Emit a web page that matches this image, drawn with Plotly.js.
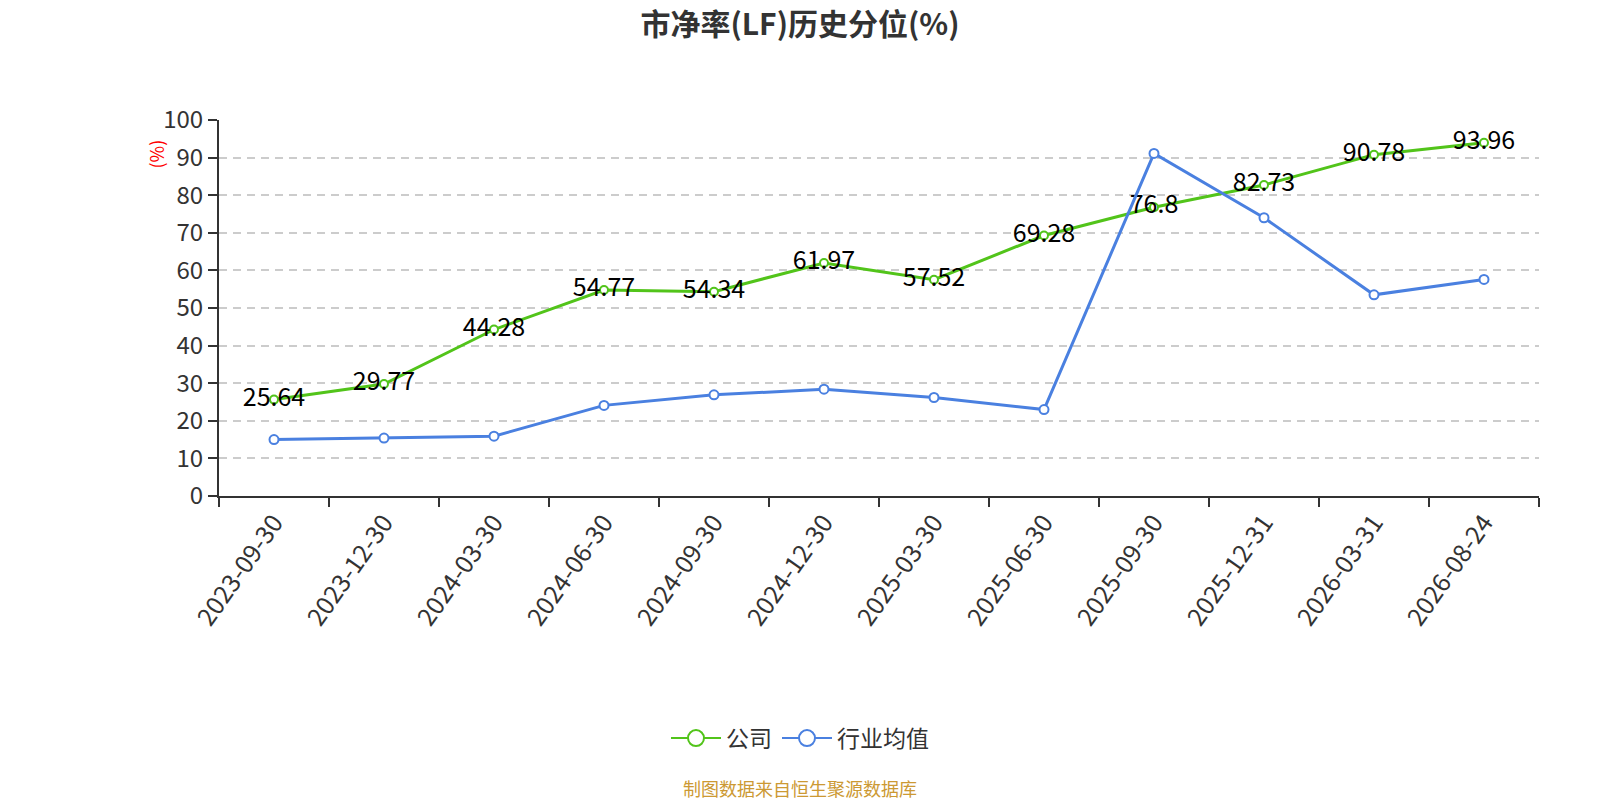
<!DOCTYPE html>
<html>
<head>
<meta charset="utf-8">
<script src="https://cdn.plot.ly/plotly-3.0.1.min.js"></script>
<style>
  body { margin: 0; background: #fff; }
  #chart { width: 1600px; height: 800px; }
</style>
</head>
<body>
<div id="chart"></div>
<script>
// dates on the x axis
var dates = ['2023-09-30', '2023-12-30', '2024-03-30', '2024-06-30', '2024-09-30', '2024-12-30',
             '2025-03-30', '2025-06-30', '2025-09-30', '2025-12-31', '2026-03-31', '2026-08-24'];
// 公司
var company = [25.64, 29.77, 44.28, 54.77, 54.34, 61.97, 57.52, 69.28, 76.8, 82.73, 90.78, 93.96];
// 行业均值
var industry = [15.0, 15.4, 15.9, 24.1, 26.9, 28.4, 26.2, 23.0, 91.1, 74.0, 53.5, 57.6];

var green = '#52c41a';
var blue = '#4a80e0';
var font = '"Noto Sans CJK SC", "Noto Sans", sans-serif';

var trace1 = {
  x: dates,
  y: company,
  name: '公司',
  type: 'scatter',
  mode: 'lines+markers+text',
  text: company.map(String),
  textposition: 'middle center',
  textfont: { family: font, size: 25, color: '#000' },
  line: { color: green, width: 3 },
  marker: { symbol: 'circle', size: 8, color: '#fff', line: { color: green, width: 2 } },
  showlegend: false,
  hoverinfo: 'none'
};

var trace2 = {
  x: dates,
  y: industry,
  name: '行业均值',
  type: 'scatter',
  mode: 'lines+markers',
  line: { color: blue, width: 3 },
  marker: { symbol: 'circle', size: 9, color: '#fff', line: { color: blue, width: 2 } },
  showlegend: false,
  hoverinfo: 'none'
};

// legend entries only, with the bigger legend circles
function legendItem(name, color) {
  return {
    x: [null], y: [null],
    name: name,
    type: 'scatter',
    mode: 'lines+markers',
    line: { color: color, width: 2 },
    marker: { symbol: 'circle', size: 16, color: '#fff', line: { color: color, width: 2 } },
    hoverinfo: 'none'
  };
}

var layout = {
  width: 1600,
  height: 800,
  margin: { l: 219, r: 61, t: 120, b: 304 },
  paper_bgcolor: '#fff',
  plot_bgcolor: '#fff',
  font: { family: font, color: '#333' },
  title: {
    text: '<b>市净率(LF)历史分位(%)</b>',
    font: { family: font, size: 30, color: '#333' },
    x: 0.5, xanchor: 'center',
    y: 0.97, yanchor: 'middle'
  },
  showlegend: true,
  legend: {
    orientation: 'h',
    x: (800 - 219) / 1320, xanchor: 'center',
    y: -0.644, yanchor: 'middle',
    font: { family: font, size: 23, color: '#333' },
    itemwidth: 50
  },
  xaxis: {
    type: 'category',
    range: [-0.5, 11.5],
    showgrid: false,
    zeroline: false,
    showline: true,
    linecolor: '#333',
    linewidth: 2,
    ticks: 'outside',
    tickson: 'boundaries',
    ticklen: 9,
    tickwidth: 2,
    tickcolor: '#333',
    tickangle: -55,
    tickfont: { family: font, size: 25, color: '#333' },
    fixedrange: true
  },
  yaxis: {
    range: [0, 100],
    dtick: 10,
    showgrid: true,
    gridcolor: '#ccc',
    griddash: '8px,6px',
    gridwidth: 2,
    zeroline: false,
    showline: true,
    linecolor: '#333',
    linewidth: 2,
    ticks: 'outside',
    ticklen: 9,
    tickwidth: 2,
    tickcolor: '#333',
    tickfont: { family: font, size: 24, color: '#333' },
    fixedrange: true
  },
  annotations: [
    {
      text: '(%)', textangle: -90,
      xref: 'paper', yref: 'paper',
      x: -0.048, y: 0.91, xanchor: 'center', yanchor: 'middle',
      showarrow: false,
      font: { family: font, size: 18, color: '#ff0000' }
    },
    {
      text: '制图数据来自恒生聚源数据库',
      xref: 'paper', yref: 'paper',
      x: (800 - 219) / 1320, y: (800 - 304 - 788) / 376, xanchor: 'center', yanchor: 'middle',
      showarrow: false,
      font: { family: font, size: 18, color: '#cc9933' }
    }
  ]
};

Plotly.newPlot('chart', [trace1, trace2, legendItem('公司', green), legendItem('行业均值', blue)],
  layout, { displayModeBar: false, staticPlot: true });
</script>
</body>
</html>
